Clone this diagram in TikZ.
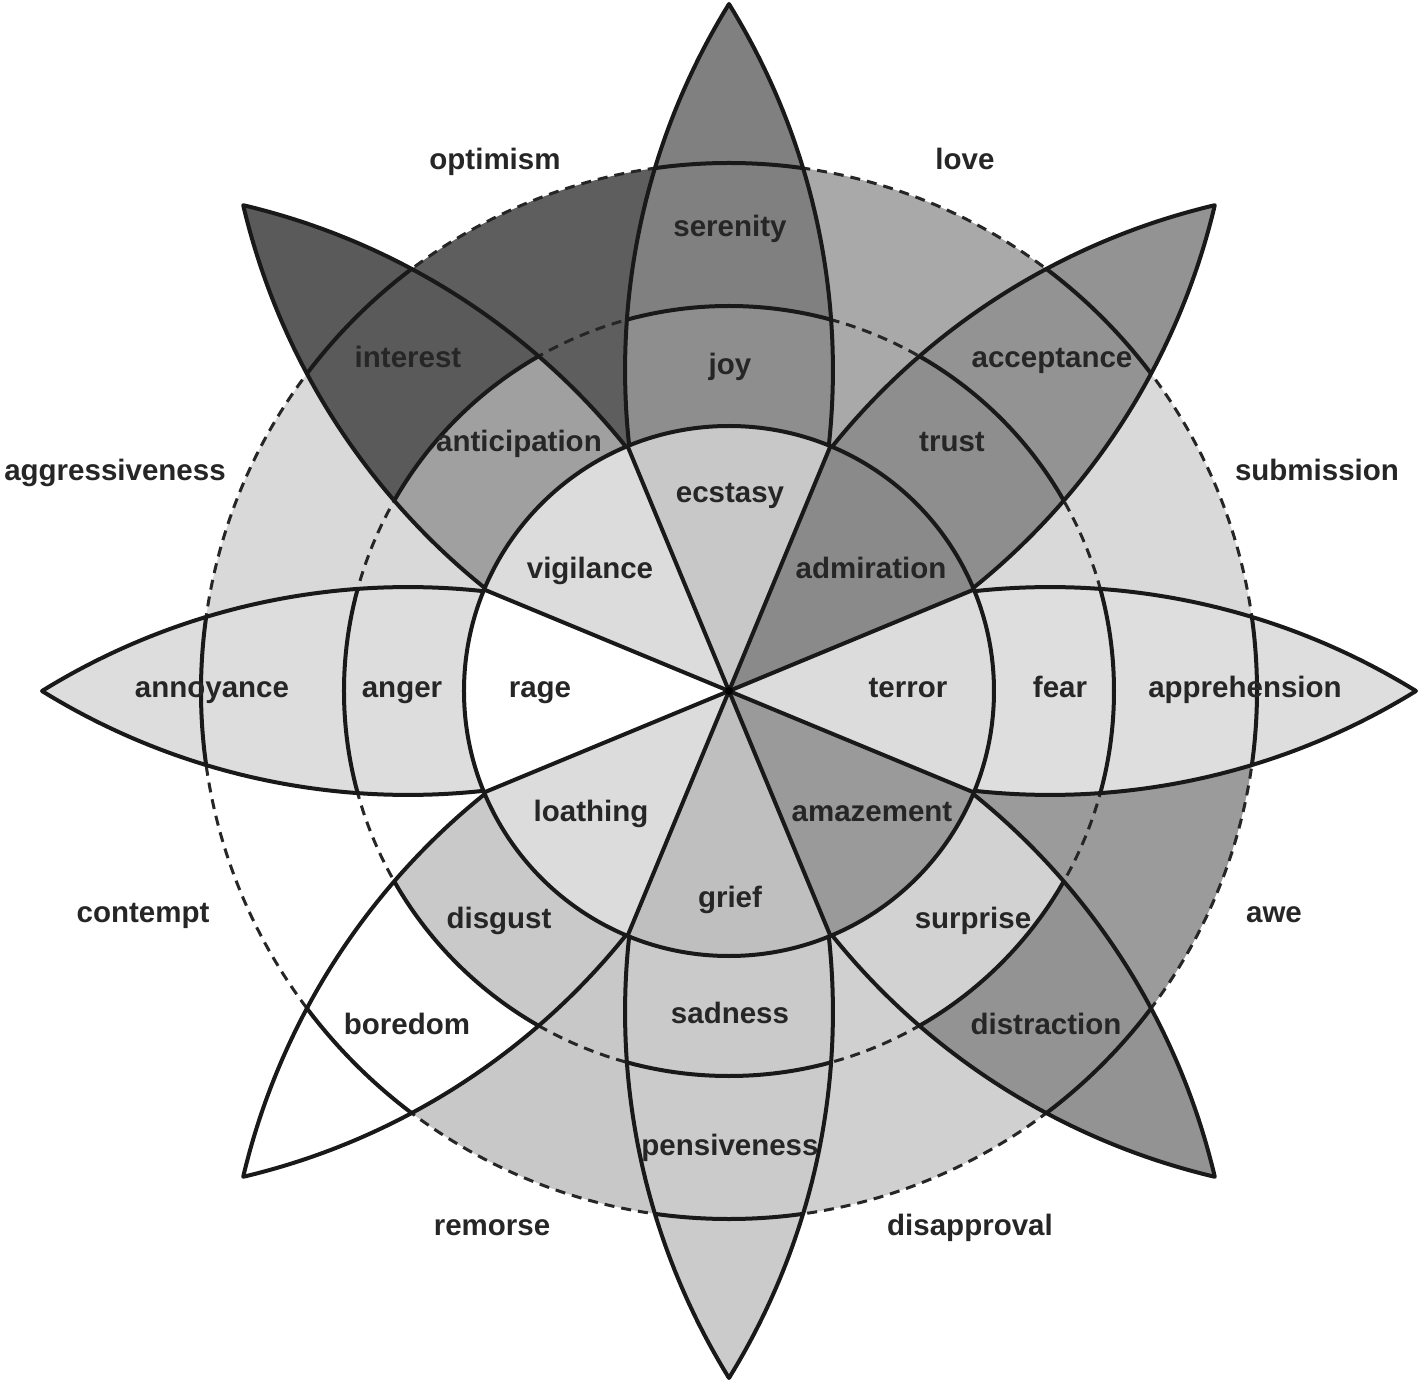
\documentclass[tikz,border=0pt]{standalone}
\usepackage{fontspec}
\newfontfamily\labfont{Liberation Sans Bold}
\definecolor{cSubm}{HTML}{D9D9D9}
\definecolor{cLove}{HTML}{A9A9A9}
\definecolor{cOpt}{HTML}{5E5E5E}
\definecolor{cAggr}{HTML}{D9D9D9}
\definecolor{cCont}{HTML}{FFFFFF}
\definecolor{cRem}{HTML}{C8C8C8}
\definecolor{cDisap}{HTML}{D0D0D0}
\definecolor{cAwe}{HTML}{9B9B9B}
% petals: wedge / band / outer
\definecolor{wJoy}{HTML}{C8C8C8}\definecolor{bJoy}{HTML}{8E8E8E}\definecolor{oJoy}{HTML}{808080}
\definecolor{wTru}{HTML}{8A8A8A}\definecolor{bTru}{HTML}{8E8E8E}\definecolor{oTru}{HTML}{939393}
\definecolor{wFea}{HTML}{DCDCDC}\definecolor{bFea}{HTML}{DEDEDE}\definecolor{oFea}{HTML}{DEDEDE}
\definecolor{wSur}{HTML}{9A9A9A}\definecolor{bSur}{HTML}{D2D2D2}\definecolor{oSur}{HTML}{939393}
\definecolor{wSad}{HTML}{BFBFBF}\definecolor{bSad}{HTML}{CACACA}\definecolor{oSad}{HTML}{CBCBCB}
\definecolor{wDis}{HTML}{DCDCDC}\definecolor{bDis}{HTML}{C9C9C9}\definecolor{oDis}{HTML}{FFFFFF}
\definecolor{wAng}{HTML}{FFFFFF}\definecolor{bAng}{HTML}{DDDDDD}\definecolor{oAng}{HTML}{DDDDDD}
\definecolor{wAnt}{HTML}{DCDCDC}\definecolor{bAnt}{HTML}{A0A0A0}\definecolor{oAnt}{HTML}{5A5A5A}
\definecolor{txt}{HTML}{262626}
\tikzset{
  solidline/.style={draw=black!90, line width=4pt, line join=round},
  dashline/.style={draw=black!85, line width=3pt, dash pattern=on 10pt off 7pt},
  lab/.style={font=\labfont\fontsize{29.5}{30}\selectfont, text=txt, inner sep=0pt, text height=21pt, text depth=6.5pt, anchor=center},
}
\def\lens{(687,0) arc[start angle=58.29,end angle=121.71,radius=696.35] arc[start angle=-121.71,end angle=-58.29,radius=696.35] -- cycle}
\begin{document}
\begin{tikzpicture}[x=1pt,y=1pt]
\useasboundingbox (-729,-696) rectangle (696,691);
\fill[white] (-729,-696) rectangle (696,691);
% dyad zones
\foreach \s/\c in {0/cSubm,45/cLove,90/cOpt,135/cAggr,180/cCont,225/cRem,270/cDisap,315/cAwe}
  \fill[\c] (0,0) -- (\s:528) arc[start angle=\s,end angle=\s+45,radius=528] -- cycle;
\draw[dashline] (0,0) circle[radius=385];
\draw[dashline] (0,0) circle[radius=528];
% petals
\foreach \a/\n in {90/Joy,45/Tru,0/Fea,-45/Sur,-90/Sad,-135/Dis,180/Ang,135/Ant}{
  \begin{scope}[rotate=\a]
    \begin{scope}
      \clip \lens;
      \fill[o\n] (-100,-800) rectangle (800,800);
      \fill[b\n] (0,0) circle[radius=385];
      \draw[solidline] (0,0) circle[radius=385];
      \draw[solidline] (0,0) circle[radius=528];
    \end{scope}
    \draw[solidline] \lens;
  \end{scope}
}
% inner wedges
\foreach \a/\n in {90/Joy,45/Tru,0/Fea,-45/Sur,-90/Sad,-135/Dis,180/Ang,135/Ant}{
  \fill[w\n] (0,0) -- (\a-22.5:265) arc[start angle=\a-22.5,end angle=\a+22.5,radius=265] -- cycle;
}
\foreach \a in {22.5,67.5,...,337.5}
  \draw[solidline] (0,0) -- (\a:265);
\draw[solidline] (0,0) circle[radius=265];
\fill[black] (0,0) circle[radius=4];
% inner labels
\node[lab] (rage) at (-189,1) {rage};
\node[lab] (vigilance) at (-139,120) {vigilance};
\node[lab] (ecstasy) at (1,196) {ecstasy};
\node[lab] (admiration) at (142,120) {admiration};
\node[lab] (terror) at (179,1) {terror};
\node[lab] (amazement) at (143,-123) {amazement};
\node[lab] (grief) at (1,-209) {grief};
\node[lab] (loathing) at (-138,-123) {loathing};
% middle band
\node[lab] (anger) at (-327,1) {anger};
\node[lab] (anticipation) at (-210,247) {anticipation};
\node[lab] (joy) at (1,324) {joy};
\node[lab] (trust) at (223,247) {trust};
\node[lab] (fear) at (331,1) {fear};
\node[lab] (surprise) at (244,-230) {surprise};
\node[lab] (sadness) at (1,-325) {sadness};
\node[lab] (disgust) at (-230,-230) {disgust};
% outer band
\node[lab] (annoyance) at (-517,1) {annoyance};
\node[lab] (interest) at (-321,331) {interest};
\node[lab] (serenity) at (1,462) {serenity};
\node[lab] (acceptance) at (323,331) {acceptance};
\node[lab] (apprehension) at (516,1) {apprehension};
\node[lab] (distraction) at (317,-336) {distraction};
\node[lab] (pensiveness) at (1,-457) {pensiveness};
\node[lab] (boredom) at (-322,-336) {boredom};
% dyads
\node[lab] (optimism) at (-234,529) {optimism};
\node[lab] (love) at (236,529) {love};
\node[lab] (aggressiveness) at (-614,218) {aggressiveness};
\node[lab] (submission) at (588,218) {submission};
\node[lab] (contempt) at (-586,-224) {contempt};
\node[lab] (awe) at (545,-224) {awe};
\node[lab] (remorse) at (-237,-537) {remorse};
\node[lab] (disapproval) at (241,-537) {disapproval};
\end{tikzpicture}
\end{document}
